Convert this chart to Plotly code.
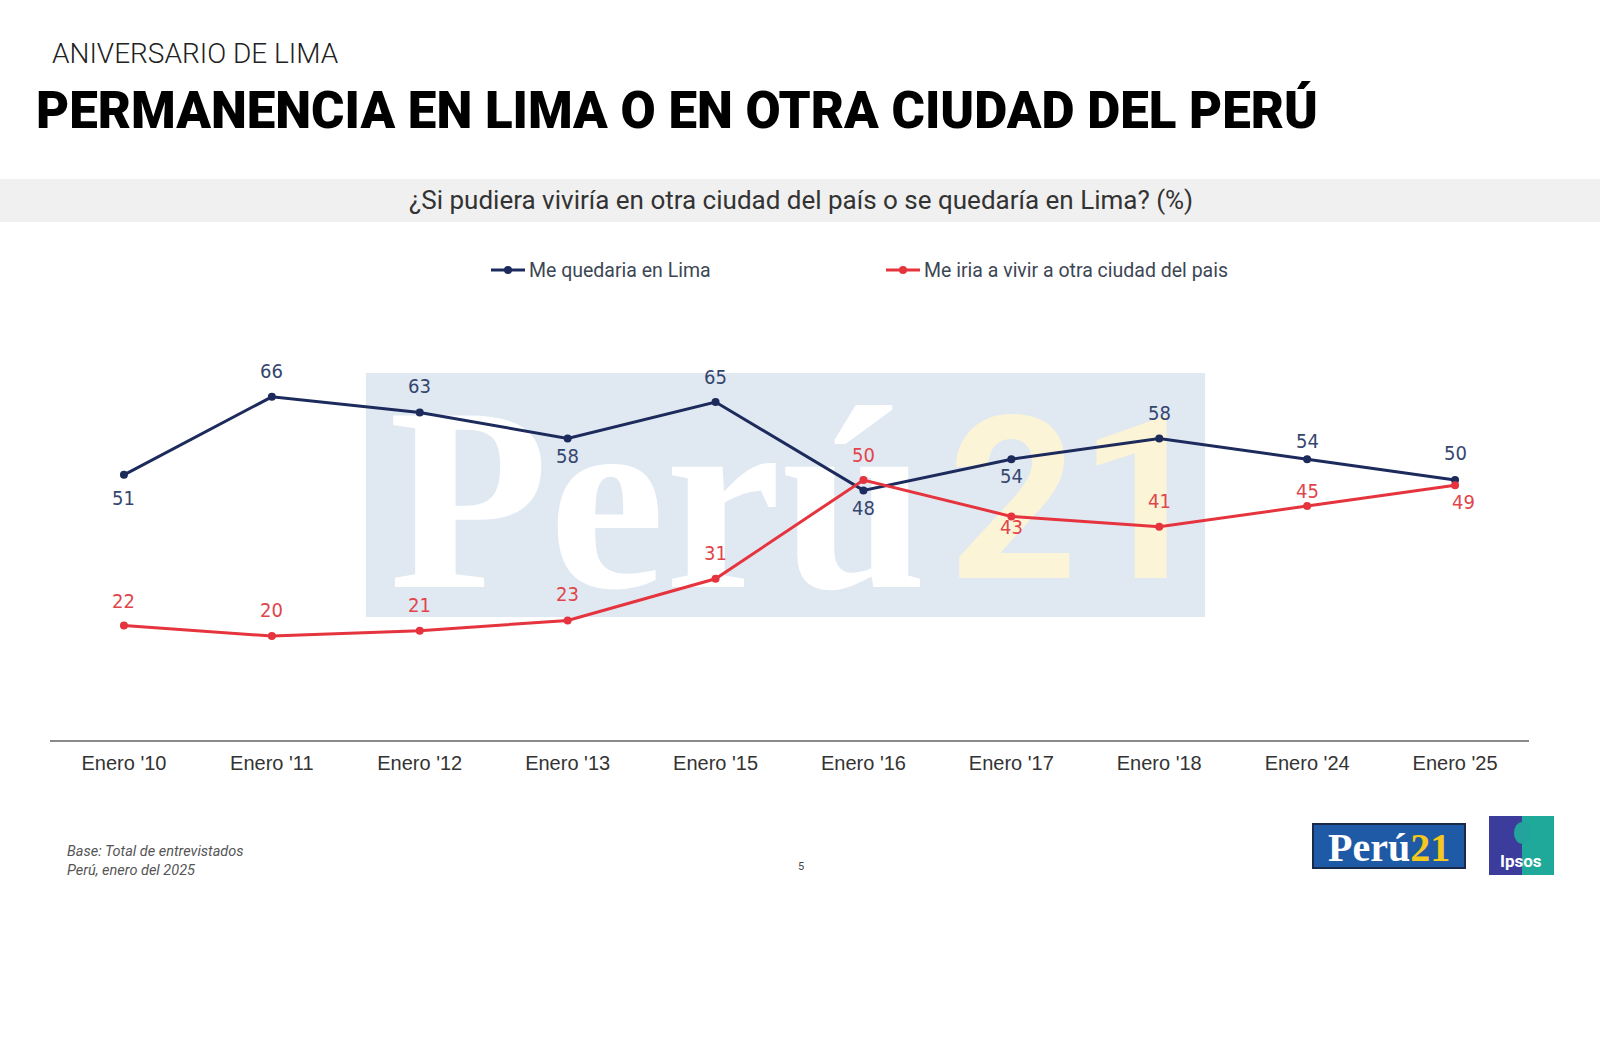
import plotly.graph_objects as go

categories = ["Enero '10", "Enero '11", "Enero '12", "Enero '13", "Enero '15",
              "Enero '16", "Enero '17", "Enero '18", "Enero '24", "Enero '25"]
lima = [51, 66, 63, 58, 65, 48, 54, 58, 54, 50]
otra = [22, 20, 21, 23, 31, 50, 43, 41, 45, 49]
series_names = ["Me quedaria en Lima", "Me iria a vivir a otra ciudad del pais"]

# label placement (pixel shifts) – styling only
lima_shift = [-23, 26, 26, -18, 25, -18, -17, 25, 18, 27]
otra_shift = [25, 26, 26, 26, 26, 25, -11, 26, 15, -17]
otra_xshift = [0, 0, 0, 0, 0, 0, 0, 0, 0, 8]

NAVY = "#1c2a5c"
RED = "#e5343d"
NAVY_TXT = "#34466e"
RED_TXT = "#e0454b"
COND = "Liberation Sans Narrow, DejaVu Sans Condensed, Roboto"
SANS = "Roboto"

W, H = 1600, 1054
L, R, T, B = 50, 71, 324, 314
PW, PH = W - L - R, H - T - B


def PX(xp):
    return (xp - L) / PW


def PY(yp):
    return (H - B - yp) / PH


x = list(range(len(categories)))
fig = go.Figure()

# watermark (drawn under the lines)
fig.add_trace(go.Scatter(x=[3.61], y=[42.0], mode="text", text=["Perú"],
                         textfont=dict(family="Liberation Serif", size=262, color="white", weight="bold"),
                         hoverinfo="skip", showlegend=False))
fig.add_trace(go.Scatter(x=[6.45], y=[42.0], mode="text", text=["21"],
                         textfont=dict(family=SANS, size=226, color="#fcf4d6", weight="bold"),
                         hoverinfo="skip", showlegend=False))

fig.add_trace(go.Scatter(x=x, y=lima, mode="lines+markers", name=series_names[0],
                         line=dict(color=NAVY, width=3), marker=dict(size=8, color=NAVY),
                         showlegend=False))
fig.add_trace(go.Scatter(x=x, y=otra, mode="lines+markers", name=series_names[1],
                         line=dict(color=RED, width=3), marker=dict(size=8, color=RED),
                         showlegend=False))

ann = []
for i, v in enumerate(lima):
    ann.append(dict(x=x[i], y=v, xref="x", yref="y", text=str(v), showarrow=False,
                    yshift=lima_shift[i], font=dict(family=COND, size=20, color=NAVY_TXT)))
for i, v in enumerate(otra):
    ann.append(dict(x=x[i], y=v, xref="x", yref="y", text=str(v), showarrow=False,
                    yshift=otra_shift[i], xshift=otra_xshift[i],
                    font=dict(family=COND, size=20, color=RED_TXT)))

# titles
ann.append(dict(xref="paper", yref="paper", x=PX(50), y=PY(53), xanchor="left", yanchor="middle",
                text="ANIVERSARIO DE LIMA", showarrow=False,
                font=dict(family=SANS, size=28, color="#222222", weight=300)))
ann.append(dict(xref="paper", yref="paper", x=PX(34), y=PY(110), xanchor="left", yanchor="middle",
                text="PERMANENCIA EN LIMA O EN OTRA CIUDAD DEL PERÚ", showarrow=False,
                font=dict(family=SANS, size=51, color="#000000", weight=900)))
ann.append(dict(xref="paper", yref="paper", x=PX(801), y=PY(200), xanchor="center", yanchor="middle",
                text="¿Si pudiera viviría en otra ciudad del país o se quedaría en Lima? (%)", showarrow=False,
                font=dict(family=SANS, size=26, color="#333333")))

# legend
leg = [(491, 525, NAVY, series_names[0]), (886, 920, RED, series_names[1])]
shapes = [dict(type="rect", xref="paper", yref="paper", x0=PX(0), x1=PX(W), y0=PY(222), y1=PY(179),
               fillcolor="#f0f0f0", line=dict(width=0), layer="below"),
          dict(type="rect", xref="x", yref="y", x0=1.636, x1=7.31, y0=23.65, y1=70.6,
               fillcolor="#e0e8f2", line=dict(width=0), layer="below")]
for x0, x1, c, name in leg:
    shapes.append(dict(type="line", xref="paper", yref="paper", x0=PX(x0), x1=PX(x1),
                       y0=PY(270), y1=PY(270), line=dict(color=c, width=3)))
    cx = (x0 + x1) / 2
    shapes.append(dict(type="circle", xref="paper", yref="paper", x0=PX(cx - 4), x1=PX(cx + 4),
                       y0=PY(274), y1=PY(266), fillcolor=c, line=dict(width=0)))
    ann.append(dict(xref="paper", yref="paper", x=PX(x1 + 2), y=PY(270), xanchor="left",
                    yanchor="middle", text=name, showarrow=False,
                    font=dict(family=SANS, size=19.5, color="#3c4654")))

# footer
ann.append(dict(xref="paper", yref="paper", x=PX(65), y=PY(861), xanchor="left", yanchor="middle",
                text="<i>Base: Total de entrevistados<br>Perú, enero del 2025</i>", showarrow=False, align="left",
                font=dict(family=SANS, size=14.5, color="#555555")))
ann.append(dict(xref="paper", yref="paper", x=PX(801), y=PY(866), xanchor="center", yanchor="middle",
                text="5", showarrow=False, font=dict(family=SANS, size=11, color="#444444")))

# logos
shapes.append(dict(type="rect", xref="paper", yref="paper", x0=PX(1313), x1=PX(1465),
                   y0=PY(868), y1=PY(824), fillcolor="#1e5aa6", line=dict(color="#1a2a4a", width=2)))
ann.append(dict(xref="paper", yref="paper", x=PX(1389), y=PY(847), xanchor="center", yanchor="middle",
                text="<b>Perú<span style='color:#f4c81c'>21</span></b>", showarrow=False,
                font=dict(family="Liberation Serif", size=40, color="white")))
shapes.append(dict(type="rect", xref="paper", yref="paper", x0=PX(1489), x1=PX(1522),
                   y0=PY(875), y1=PY(816), fillcolor="#3c3c9c", line=dict(width=0)))
shapes.append(dict(type="rect", xref="paper", yref="paper", x0=PX(1522), x1=PX(1554),
                   y0=PY(875), y1=PY(816), fillcolor="#1fa99a", line=dict(width=0)))
shapes.append(dict(type="circle", xref="paper", yref="paper", x0=PX(1514), x1=PX(1530),
                   y0=PY(844), y1=PY(822), fillcolor="#22a39c", line=dict(width=0)))
ann.append(dict(xref="paper", yref="paper", x=PX(1521), y=PY(861), xanchor="center", yanchor="middle",
                text="<b>Ipsos</b>", showarrow=False, font=dict(family=SANS, size=17, color="white")))

fig.update_layout(
    width=W, height=H,
    margin=dict(l=L, r=R, t=T, b=B),
    paper_bgcolor="white", plot_bgcolor="white",
    annotations=ann, shapes=shapes,
    xaxis=dict(range=[-0.5, 9.5], tickvals=x, ticktext=categories, showgrid=False, zeroline=False,
               showline=True, linecolor="#8a8a8a", linewidth=2, ticks="",
               tickfont=dict(family="Liberation Sans", size=20, color="#333333"), ticklabelstandoff=4),
    yaxis=dict(range=[0, 80], visible=False, showgrid=False),
    hovermode=False,
)

fig.write_html("out.html")
